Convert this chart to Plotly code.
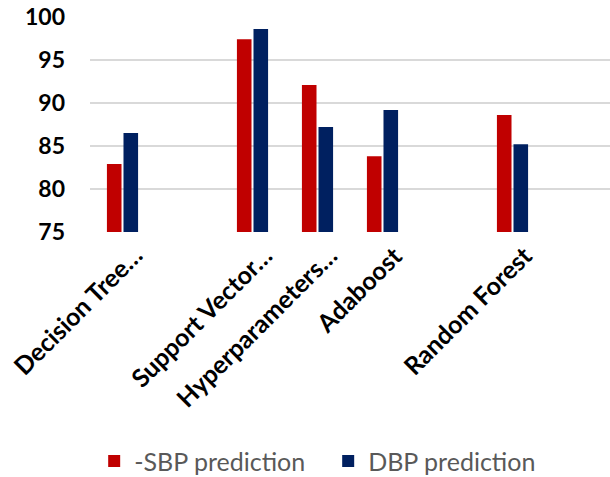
import plotly.graph_objects as go

# Model names (blank slots keep the spacing between groups)
models = ["Decision Tree…", "", "Support Vector…", "Hyperparameters…", "Adaboost", "", "Random Forest", ""]
slot_positions = [0, 2, 3, 4, 6]
labelled_models = ["Decision Tree…", "Support Vector…", "Hyperparameters…", "Adaboost", "Random Forest"]

sbp_values = [82.9, 97.4, 92.1, 83.8, 88.6]
dbp_values = [86.5, 98.6, 87.2, 89.2, 85.2]

y_ticks = [75, 80, 85, 90, 95, 100]

RED = "#C00000"
BLUE = "#002060"
FONT = "Lato"

fig = go.Figure()
fig.add_trace(go.Bar(x=slot_positions, y=sbp_values, name="-SBP prediction",
                     marker=dict(color=RED, line=dict(width=0))))
fig.add_trace(go.Bar(x=slot_positions, y=dbp_values, name="DBP prediction",
                     marker=dict(color=BLUE, line=dict(width=0))))

# Category labels: rotated, top-right corner hung just under each group
for pos, label in zip(slot_positions, labelled_models):
    fig.add_annotation(
        x=pos, xref="x", y=0, yref="paper",
        text=label, showarrow=False, textangle=-45,
        xanchor="right", yanchor="top", xshift=28, yshift=-5,
        font=dict(family=FONT, size=25, color="#000000", weight="bold"),
    )

fig.update_layout(
    width=610, height=477,
    margin=dict(l=90, r=0, t=17, b=245),
    paper_bgcolor="white", plot_bgcolor="white",
    barmode="group", bargap=0.49, bargroupgap=0.12,
    font=dict(family=FONT, color="#000000"),
    showlegend=True,
    legend=dict(orientation="h", xref="container", yref="container",
                x=0.538, xanchor="center", y=0.033, yanchor="middle",
                font=dict(family=FONT, size=25, color="#595959"),
                itemwidth=30, entrywidth=189, entrywidthmode="pixels",
                bgcolor="rgba(0,0,0,0)"),
)

fig.update_xaxes(
    range=[-0.5, len(models) - 0.5],
    showticklabels=False, showgrid=False, zeroline=False, showline=False, ticks="",
)
fig.update_yaxes(
    range=[75, 100], tickmode="array", tickvals=y_ticks,
    showgrid=True, gridcolor="#D9D9D9", gridwidth=1.5,
    zeroline=False, showline=False, ticks="",
    tickfont=dict(family=FONT, size=23, color="#000000", weight="bold"),
    ticklabelstandoff=24,
)

fig.write_html("out.html")
